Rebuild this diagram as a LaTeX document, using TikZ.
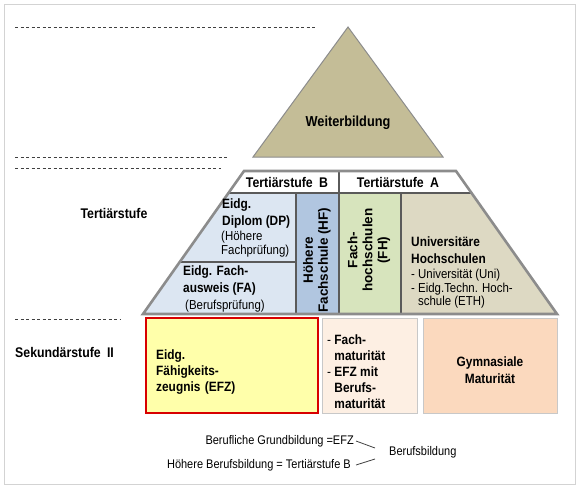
\documentclass[tikz,border=0pt]{standalone}
\usepackage{fontspec}
\setmainfont{Liberation Sans}[FakeStretch=0.88]
\newfontfamily\rotfont{Liberation Sans}
\definecolor{tanW}{HTML}{C4BD97}
\definecolor{blueL}{HTML}{DCE6F2}
\definecolor{blueHF}{HTML}{B1C6E0}
\definecolor{greenFH}{HTML}{D7E4BD}
\definecolor{tanU}{HTML}{DDD9C3}
\definecolor{yellowE}{HTML}{FFFFAA}
\definecolor{peachL}{HTML}{FDEFE3}
\definecolor{peachG}{HTML}{FBD9BE}
\definecolor{redE}{HTML}{D80000}
\definecolor{greyO}{HTML}{8C8C8C}
\definecolor{greyI}{HTML}{5A5A5A}
\definecolor{greyB}{HTML}{C8C8C8}
\definecolor{greyD}{HTML}{404040}
\tikzset{
  lab/.style={font=\fontsize{14}{16}\selectfont\bfseries, inner sep=0},
  cellb/.style={font=\fontsize{13.5}{16.5}\selectfont\bfseries, align=left, inner sep=0, anchor=west},
  cellr/.style={font=\fontsize{13}{13.5}\selectfont, align=left, inner sep=0, anchor=west},
  rotb/.style={font=\rotfont\fontsize{13.5}{15}\selectfont\bfseries, align=center, inner sep=0, rotate=90},
  note/.style={font=\fontsize{12.5}{15}\selectfont, inner sep=0},
  dashln/.style={draw=greyD, line width=0.9pt, dash pattern=on 3pt off 2.5pt},
  inner/.style={draw=greyI, line width=1.2pt},
  sekbox/.style={draw=greyB, line width=1pt},
}
\begin{document}
\begin{tikzpicture}[x=1pt,y=-1pt]
\useasboundingbox (0,0) rectangle (580,490);
% frame
\draw[draw=greyB!80, line width=1pt] (4.5,4.5) rectangle (575.5,484.5);
% dashed guide lines
\draw[dashln] (15,27) -- (315,27);
\draw[dashln] (15,157) -- (228,157);
\draw[dashln] (15,168) -- (221,168);
\draw[dashln] (15,319) -- (121,319);
% triangle
\draw[fill=tanW, draw=greyO, line width=1pt] (348,27) -- (443,157) -- (253,157) -- cycle;
\node[lab, font=\fontsize{14.5}{16}\selectfont\bfseries] (wb) at (348,123) {Weiterbildung};
% trapezoid regions
\fill[white] (244,171) -- (456,171) -- (471.5,193) -- (228.5,193) -- cycle;
\fill[blueL] (228.5,193) -- (296,193) -- (296,314) -- (143,314) -- cycle;
\fill[blueHF] (296,193) rectangle (339,314);
\fill[greenFH] (339,193) rectangle (401,314);
\fill[tanU] (401,193) -- (471.5,193) -- (557,314) -- (401,314) -- cycle;
% interior lines
\draw[inner] (228.5,193) -- (471.5,193);
\draw[inner] (339,171) -- (339,314);
\draw[inner] (296,193) -- (296,314);
\draw[inner] (401,193) -- (401,314);
\draw[inner] (179.7,262) -- (296,262);
% outline
\draw[draw=greyO, line width=2.6pt, line join=miter] (244,171) -- (456,171) -- (557,314) -- (143,314) -- cycle;
% header texts
\node[lab] (tb) at (287,182) {Tertiärstufe\hspace{0.45em}B};
\node[lab] (ta) at (398,182) {Tertiärstufe\hspace{0.45em}A};
% cell texts
\node[cellb] (dpb) at (222,213.5) {Eidg.\\Diplom (DP)};
\node[cellr] (dpr) at (221,244) {(Höhere\\Fachprüfung)};
\node[cellb] (fab) at (183,280.5) {Eidg. Fach-\\ausweis (FA)};
\node[cellr] (far) at (185,306) {(Berufsprüfung)};
\node[rotb] (hf) at (317,260) {Höhere\\Fachschule (HF)};
\node[rotb] (fh) at (369,250) {Fach-\\hochschulen\\(FH)};
\node[cellb] (unib) at (411,250) {Universitäre\\Hochschulen};
\node[cellr] (unir) at (411,289) {- Universität (Uni)\\- Eidg.Techn. Hoch-\\\hphantom{- }schule (ETH)};
% left labels
\node[lab] (lt) at (114,213) {Tertiärstufe};
\node[lab, anchor=west] (ls) at (15,352) {Sekundärstufe\hspace{0.45em}II};
% secondary boxes
\draw[fill=yellowE, draw=redE, line width=2.8pt] (146,318) rectangle (318,413);
\draw[sekbox, fill=peachL] (322,318) rectangle (417,413);
\draw[sekbox, fill=peachG] (423,318) rectangle (557,413);
\node[cellb, text width=150pt, font=\fontsize{13.5}{16}\selectfont\bfseries] (efz) at (156,372.5) {Eidg.\\Fähigkeits-\\zeugnis (EFZ)};
\node[cellb, font=\fontsize{13.5}{16}\selectfont\bfseries] (fm) at (327,372) {{\mdseries-} Fach-\\\hphantom{- }maturität\\{\mdseries-} EFZ mit\\\hphantom{- }Berufs-\\\hphantom{- }maturität};
\node[cellb, align=center, anchor=center] (gm) at (490,370) {Gymnasiale\\Maturität};
% bottom notes
\node[note, anchor=east] (gb) at (354,441) {Berufliche Grundbildung =EFZ};
\node[note, anchor=east] (hb) at (351,465) {Höhere Berufsbildung = Tertiärstufe B};
\node[note, anchor=west] (bb) at (389,452) {Berufsbildung};
\coordinate (j1) at (375,448);
\coordinate (j2) at (375,459);
\draw[greyD, line width=0.8pt] ([xshift=2pt]gb.east) -- (j1);
\draw[greyD, line width=0.8pt] ([xshift=5pt]hb.east) -- (j2);
\end{tikzpicture}
\end{document}
